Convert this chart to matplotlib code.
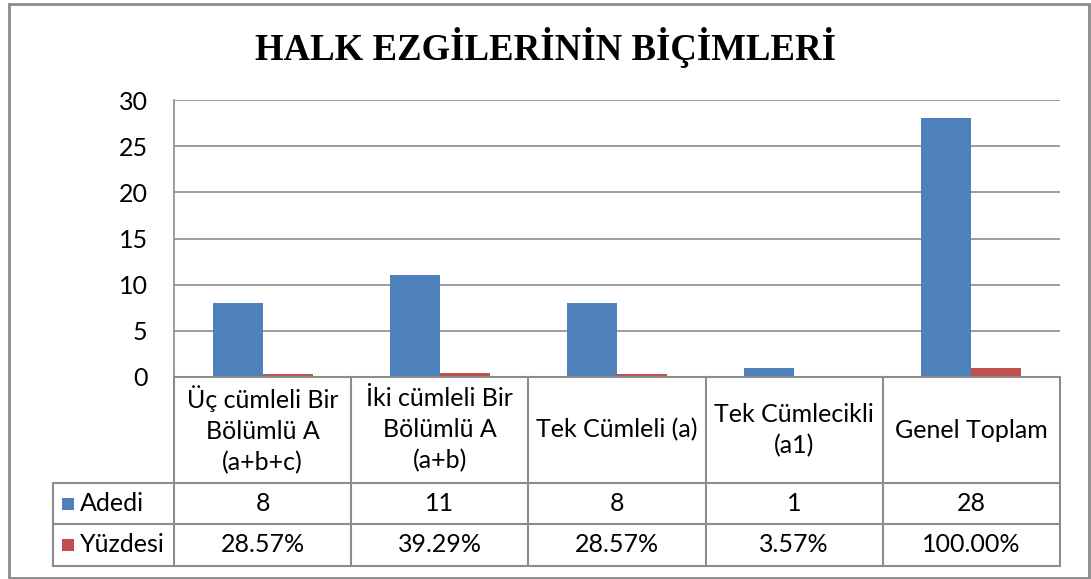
import matplotlib
matplotlib.use("Agg")
import matplotlib.pyplot as plt
from matplotlib import transforms
from matplotlib.patches import Rectangle

plt.rcParams['font.family'] = ['Lato', 'DejaVu Sans']

title = "HALK EZGİLERİNİN BİÇİMLERİ"
categories = ["Üç cümleli Bir\nBölümlü A\n(a+b+c)",
              "İki cümleli Bir\nBölümlü A\n(a+b)",
              "Tek Cümleli (a)",
              "Tek Cümlecikli\n(a1)",
              "Genel Toplam"]
series_names = ["Adedi", "Yüzdesi"]
adedi = [8, 11, 8, 1, 28]
yuzdesi = [0.2857, 0.3929, 0.2857, 0.0357, 1.0]
adedi_labels = ["8", "11", "8", "1", "28"]
yuzdesi_labels = ["28.57%", "39.29%", "28.57%", "3.57%", "100.00%"]
yticks = [0, 5, 10, 15, 20, 25, 30]

BLUE = "#4F81BD"
RED = "#C0504D"
GRID = "#8C8C8C"
FS = 18

W, H = 1091, 579
fig = plt.figure(figsize=(W / 100, H / 100), dpi=100)

# outer chart border
fig.patches.append(Rectangle((9 / W, 1 / H), 1080 / W, 574 / H, transform=fig.transFigure,
                             fill=False, edgecolor="#8C8C8C", linewidth=2.0))

ax_l, ax_r, ax_t, ax_b = 174, 1060, 100, 377
ax = fig.add_axes([ax_l / W, 1 - ax_b / H, (ax_r - ax_l) / W, (ax_b - ax_t) / H])

n = len(categories)
x = list(range(n))
bw = 0.282
ax.bar([i - bw / 2 for i in x], adedi, width=bw, color=BLUE, zorder=3)
ax.bar([i + bw / 2 for i in x], yuzdesi, width=bw, color=RED, zorder=3)

ax.set_xlim(-0.5, n - 0.5)
ax.set_ylim(0, 30)
ax.set_yticks(yticks)
ax.set_yticklabels([str(t) for t in yticks], fontsize=FS)
ax.tick_params(axis='y', length=0, pad=19)
ax.set_xticks([])
for s in ["top", "right", "bottom"]:
    ax.spines[s].set_visible(False)
ax.spines["left"].set_color(GRID)
ax.spines["left"].set_linewidth(1.2)
ax.yaxis.grid(True, color=GRID, linewidth=1.2, zorder=0)
ax.set_axisbelow(True)

fig.text(0.5, 1 - 47 / H, title, ha="center", va="center",
         fontsize=26.5, fontweight="bold", family="Liberation Serif")

# data table below the axis
tr = transforms.blended_transform_factory(ax.transData, ax.transAxes)
ph = ax_b - ax_t
cw = (ax_r - ax_l) / n
def yf(py):
    return (ax_b - py) / ph

y_top = yf(377)
y_hdr = yf(483)
y_r1 = yf(524)
y_r2 = yf(566)
x_leg = -0.5 - (ax_l - 53) / cw
lkw = dict(color=GRID, linewidth=1.5, transform=tr, clip_on=False, zorder=4)

ax.plot([-0.5, n - 0.5], [y_top, y_top], **lkw)
for yy in (y_hdr, y_r1, y_r2):
    ax.plot([x_leg, n - 0.5], [yy, yy], **lkw)
for k in range(n + 1):
    ax.plot([k - 0.5, k - 0.5], [y_top, y_r2], **lkw)
ax.plot([x_leg, x_leg], [y_hdr, y_r2], **lkw)

tkw = dict(transform=tr, ha="center", va="center", fontsize=FS, clip_on=False,
           linespacing=1.42)
for i in x:
    ax.text(i, (y_top + y_hdr) / 2, categories[i], **tkw)
    ax.text(i, (y_hdr + y_r1) / 2, adedi_labels[i], **tkw)
    ax.text(i, (y_r1 + y_r2) / 2, yuzdesi_labels[i], **tkw)

# legend keys in the table
sq_w = 12 / cw
sq_h = 12 / ph
for (yy0, yy1), name, col in (((y_hdr, y_r1), series_names[0], BLUE),
                              ((y_r1, y_r2), series_names[1], RED)):
    ym = (yy0 + yy1) / 2
    ax.add_patch(Rectangle((x_leg + 9 / cw, ym - sq_h / 2), sq_w, sq_h, facecolor=col,
                           edgecolor="none", transform=tr, clip_on=False))
    ax.text(x_leg + 27 / cw, ym, name, transform=tr, ha="left", va="center",
            fontsize=FS, clip_on=False)

fig.savefig("out.png", dpi=100)
